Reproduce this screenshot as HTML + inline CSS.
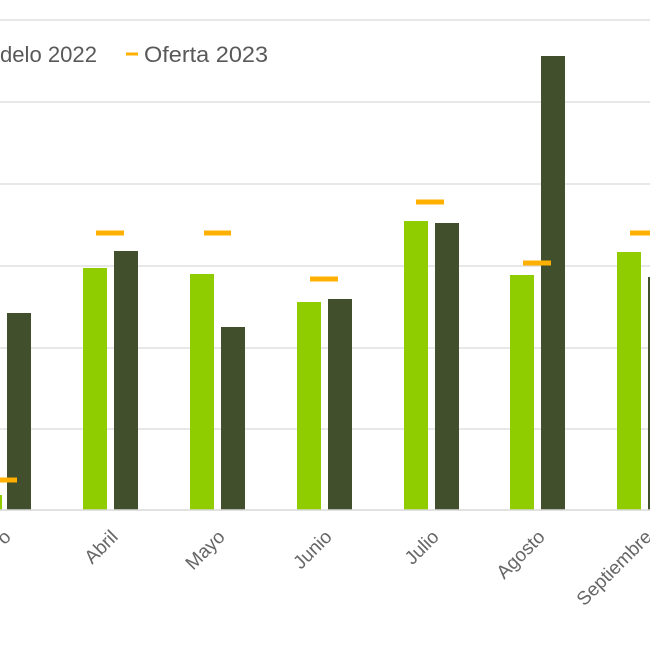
<!DOCTYPE html>
<html><head><meta charset="utf-8"><style>
html,body{margin:0;padding:0;background:#fff;}
svg{display:block;font-family:"Liberation Sans",sans-serif;}
</style></head><body>
<svg width="650" height="650" viewBox="0 0 650 650" xmlns="http://www.w3.org/2000/svg">
<g stroke="#d9d9d9" stroke-width="1.3">
<line x1="0" y1="20" x2="650" y2="20"/>
<line x1="0" y1="102" x2="650" y2="102"/>
<line x1="0" y1="184" x2="650" y2="184"/>
<line x1="0" y1="266" x2="650" y2="266"/>
<line x1="0" y1="348" x2="650" y2="348"/>
<line x1="0" y1="429" x2="650" y2="429"/>
</g>
<g fill="#8fcc00">
<rect x="-22" y="495" width="24" height="15"/>
<rect x="83" y="268" width="24" height="242"/>
<rect x="190" y="274" width="24" height="236"/>
<rect x="297" y="302" width="24" height="208"/>
<rect x="404" y="221" width="24" height="289"/>
<rect x="510" y="275" width="24" height="235"/>
<rect x="617" y="252" width="24" height="258"/>
</g>
<g fill="#414f2c">
<rect x="7" y="313" width="24" height="197"/>
<rect x="114" y="251" width="24" height="259"/>
<rect x="221" y="327" width="24" height="183"/>
<rect x="328" y="299" width="24" height="211"/>
<rect x="435" y="223" width="24" height="287"/>
<rect x="541" y="56" width="24" height="454"/>
<rect x="648" y="277" width="24" height="233"/>
</g>
<g stroke="#ffb000" stroke-width="5">
<line x1="-10" y1="480" x2="17" y2="480"/>
<line x1="96" y1="233" x2="124" y2="233"/>
<line x1="204" y1="233" x2="231" y2="233"/>
<line x1="310" y1="279" x2="338" y2="279"/>
<line x1="416" y1="202" x2="444" y2="202"/>
<line x1="523" y1="263" x2="551" y2="263"/>
<line x1="630" y1="233" x2="658" y2="233"/>
<line x1="126" y1="54" x2="138" y2="54" stroke-width="3"/>
</g>
<line x1="0" y1="510" x2="650" y2="510" stroke="#d9d9d9" stroke-width="1.5"/>
<g fill="#595959" font-size="22">
<text x="0" y="62" textLength="97" lengthAdjust="spacingAndGlyphs">delo 2022</text>
<text x="144" y="62" textLength="124" lengthAdjust="spacingAndGlyphs">Oferta 2023</text>
</g>
<g fill="#666666" font-size="19" text-anchor="end">
<text transform="translate(12,538) rotate(-45)">o</text>
<text transform="translate(119,538) rotate(-45)">Abril</text>
<text transform="translate(226,538) rotate(-45)">Mayo</text>
<text transform="translate(333,538) rotate(-45)">Junio</text>
<text transform="translate(440,538) rotate(-45)">Julio</text>
<text transform="translate(546,538) rotate(-45)">Agosto</text>
<text transform="translate(653,538) rotate(-45)">Septiembre</text>
</g>
</svg>
</body></html>
